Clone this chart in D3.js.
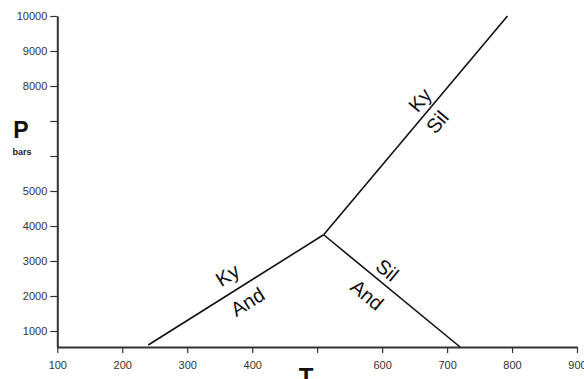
<!DOCTYPE html>
<html>
<head>
<meta charset="utf-8">
<script src="https://cdn.jsdelivr.net/npm/d3@7"></script>
<style>
  html, body { margin: 0; padding: 0; background: #fff; }
  svg { display: block; font-family: "Liberation Sans", Arial, sans-serif; }
</style>
</head>
<body>
<svg id="chart" width="584" height="379"></svg>
<script>
// Al2SiO5 phase diagram: kyanite / andalusite / sillimanite stability fields
const xTicks = [100, 200, 300, 400, 500, 600, 700, 800, 900];
const xBlank = [500];
const yTicks = [1000, 2000, 3000, 4000, 5000, 6000, 7000, 8000, 9000, 10000];
const yBlank = [6000, 7000];

const triplePoint = { T: 510, P: 3750 };
const kyAndLine = [{ T: 240, P: 600 }, triplePoint];
const andSilLine = [triplePoint, { T: 720, P: 543 }];
const kySilLine = [triplePoint, { T: 793, P: 10000 }];

// phase names placed on either side of each boundary (T, P of text centre)
const phaseLabels = [
  { text: "Ky",  T: 362, P: 2600, line: kyAndLine },
  { text: "And", T: 393, P: 1830, line: kyAndLine },
  { text: "Sil", T: 608, P: 2740, line: andSilLine },
  { text: "And", T: 577, P: 2030, line: andSilLine },
  { text: "Ky",  T: 658, P: 7600, line: kySilLine },
  { text: "Sil", T: 685, P: 6970, line: kySilLine }
];

const svg = d3.select("#chart");
const x = d3.scaleLinear().domain([100, 900]).range([57.3, 577]);
const y = d3.scaleLinear().domain([543, 10000]).range([347, 16]);

const axisColor = "#333";

// y axis
const gy = svg.append("g").attr("transform", `translate(${x(100)},0)`)
  .call(d3.axisLeft(y).tickValues(yTicks).tickSize(7).tickSizeOuter(0)
    .tickFormat(d => yBlank.includes(d) ? "" : d));
gy.select(".domain").attr("stroke", axisColor).attr("stroke-width", 2);
gy.selectAll(".tick line").attr("stroke", axisColor).attr("stroke-width", 1.2);
gy.selectAll(".tick text").attr("fill", "#333").attr("font-size", 11)
  .attr("font-family", "Liberation Sans, Arial, sans-serif").attr("x", -10);

// x axis
const gx = svg.append("g").attr("transform", `translate(0,${y(543)})`)
  .call(d3.axisBottom(x).tickValues(xTicks).tickSize(6).tickSizeOuter(0)
    .tickFormat(d => xBlank.includes(d) ? "" : d));
gx.select(".domain").attr("stroke", axisColor).attr("stroke-width", 2);
gx.selectAll(".tick line").attr("stroke", axisColor).attr("stroke-width", 1.2);
gx.selectAll(".tick text").attr("fill", "#333").attr("font-size", 11)
  .attr("font-family", "Liberation Sans, Arial, sans-serif").attr("y", 14);

// axis titles
svg.append("text").attr("x", 21).attr("y", 138).attr("text-anchor", "middle")
  .attr("font-size", 23).attr("font-weight", "bold").attr("fill", "#111").text("P");
svg.append("text").attr("x", 22).attr("y", 155).attr("text-anchor", "middle")
  .attr("font-size", 9).attr("font-weight", "bold").attr("fill", "#222").text("bars");
svg.append("text").attr("x", 306).attr("y", 385).attr("text-anchor", "middle")
  .attr("font-size", 24).attr("font-weight", "bold").attr("fill", "#111").text("T");

// phase boundaries
const line = d3.line().x(d => x(d.T)).y(d => y(d.P));
[kyAndLine, andSilLine, kySilLine].forEach(seg => {
  svg.append("path").attr("d", line(seg)).attr("fill", "none")
    .attr("stroke", "#111").attr("stroke-width", 1.6);
});

// labels rotated to follow their boundary
phaseLabels.forEach(l => {
  const [a, b] = l.line;
  const dx = x(b.T) - x(a.T), dy = y(b.P) - y(a.P);
  let ang = Math.atan2(dy, dx) * 180 / Math.PI;
  if (ang > 90) ang -= 180;
  if (ang < -90) ang += 180;
  svg.append("text")
    .attr("transform", `translate(${x(l.T)},${y(l.P)}) rotate(${ang})`)
    .attr("text-anchor", "middle").attr("dominant-baseline", "central")
    .attr("font-size", 20).attr("fill", "#111").text(l.text);
});
</script>
</body>
</html>
